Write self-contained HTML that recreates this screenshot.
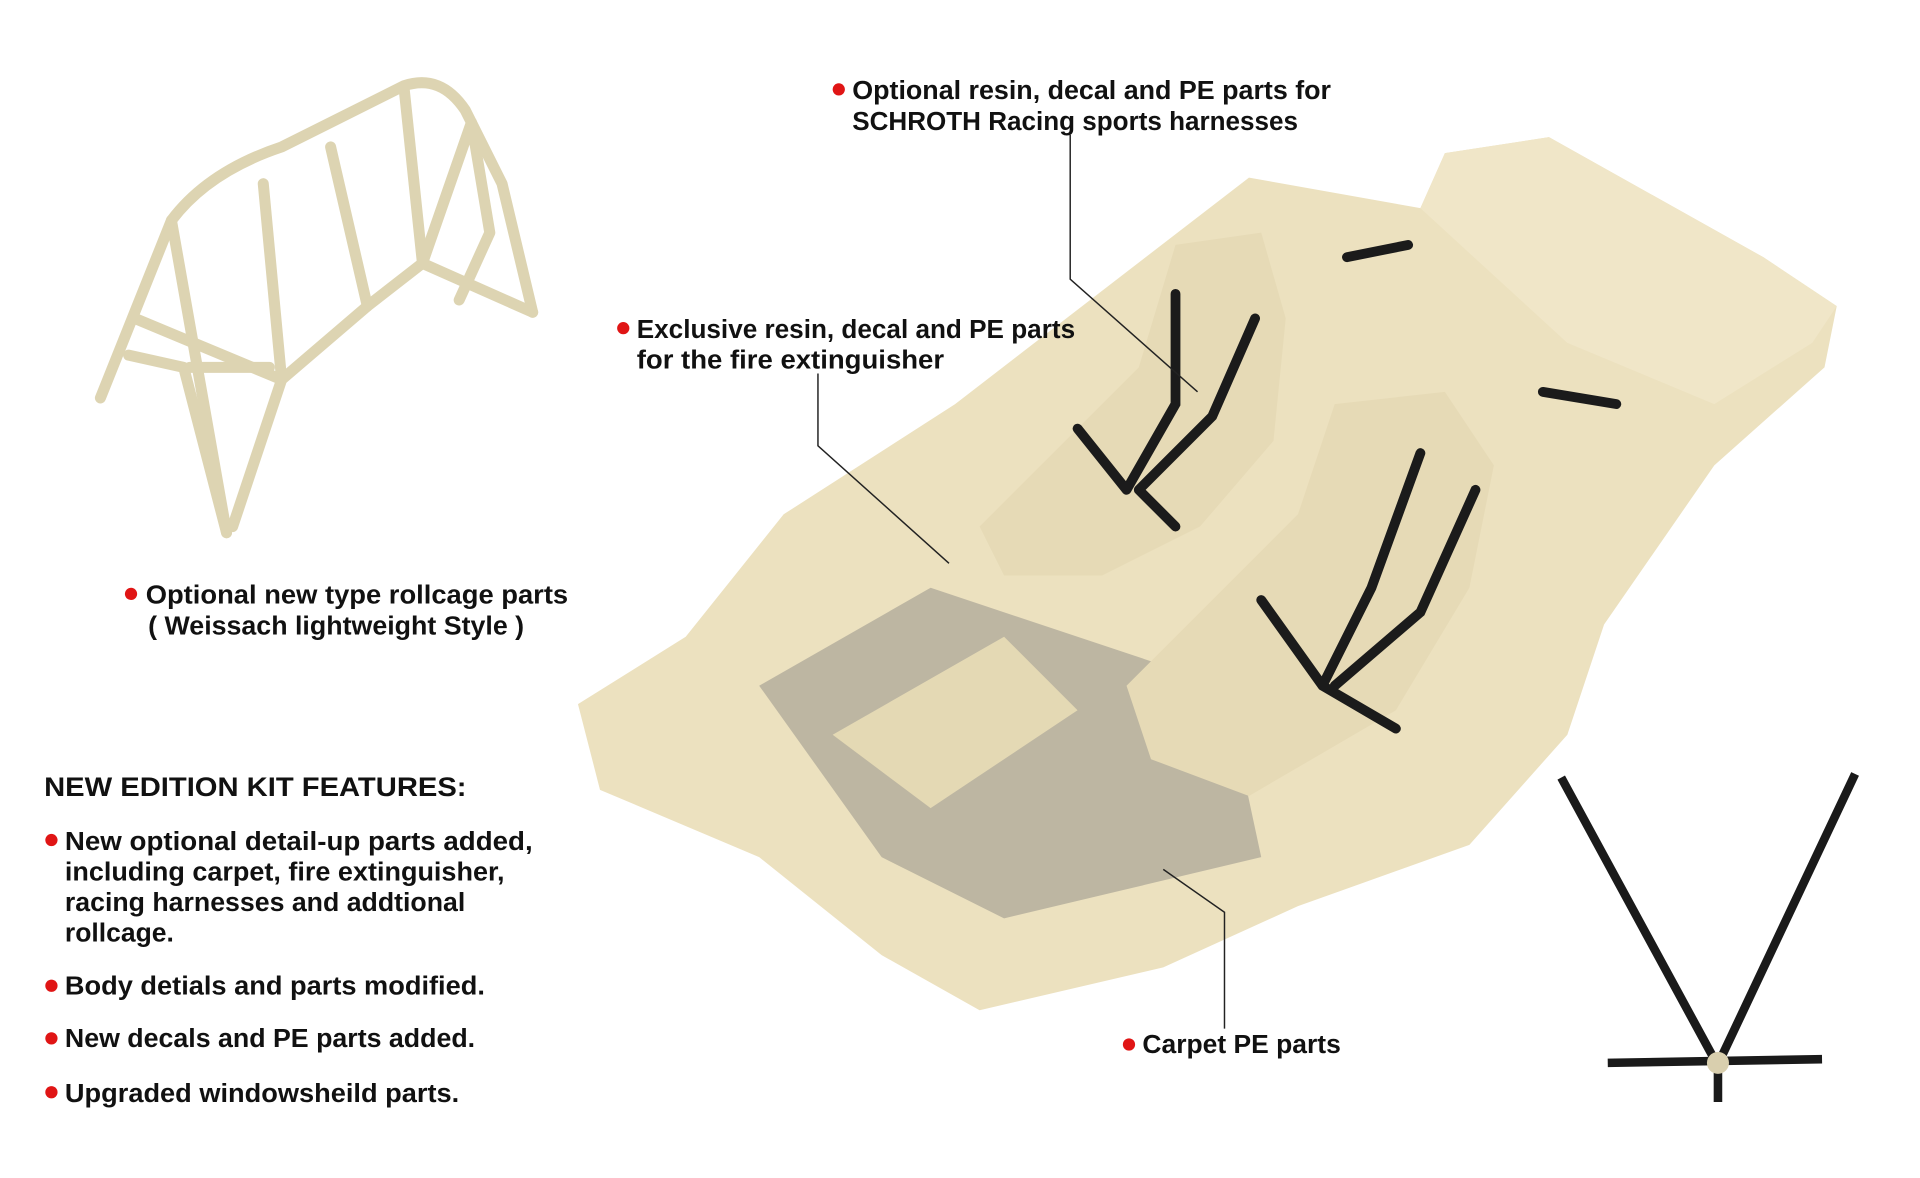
<!DOCTYPE html>
<html><head><meta charset="utf-8"><style>
html,body{margin:0;padding:0;background:#fff;}
svg{display:block}
text{font-family:"Liberation Sans",sans-serif;font-weight:bold;fill:#111;}
</style></head><body>
<svg width="1920" height="1178" viewBox="0 0 1568 962" xmlns="http://www.w3.org/2000/svg">
<rect width="1568" height="962" fill="#fff"/>
<g fill="none" stroke="#ddd4b2" stroke-width="9" stroke-linecap="round" stroke-linejoin="round">
<path d="M82,325 L140,180 Q170,140 230,120 L330,70 Q360,60 380,90 L410,150 L435,255"/>
<path d="M140,180 L185,435 M215,150 L230,310 M270,120 L300,250 M330,72 L345,215 M385,100 L400,190 L375,245"/>
<path d="M110,260 L230,310 L300,250 L345,215 L385,100"/>
<path d="M155,300 L220,300 M105,290 L150,300 M150,300 L185,435"/>
<path d="M230,310 L190,430 M345,215 L435,255"/>
</g>
<path d="M472,575 L560,520 L640,420 L780,330 L1020,145 L1160,170 L1180,125 L1265,112 L1440,210 L1500,250 L1490,300 L1400,380 L1310,510 L1280,600 L1200,690 L1060,740 L950,790 L800,825 L720,780 L620,700 L490,645 Z" fill="#ece1bf"/>
<path d="M1160,170 L1180,125 L1265,112 L1440,210 L1500,250 L1480,280 L1400,330 L1280,280 Z" fill="#f0e6c8"/>
<path d="M620,560 L760,480 L1000,560 L1030,700 L820,750 L720,700 Z" fill="#bdb6a2"/>
<path d="M680,600 L820,520 L880,580 L760,660 Z" fill="#e4d9b4"/>
<path d="M800,430 L930,300 L960,200 L1030,190 L1050,260 L1040,360 L980,430 L900,470 L820,470 Z" fill="#e6dab6"/>
<path d="M920,560 L1060,420 L1090,330 L1180,320 L1220,380 L1200,480 L1140,580 L1020,650 L940,620 Z" fill="#e6dab6"/>
<g fill="none" stroke="#1b1b1b" stroke-width="8" stroke-linecap="round">
<path d="M960,240 L960,330 L920,400 M1025,260 L990,340 L930,400 M880,350 L920,400 M930,400 L960,430"/>
<path d="M1160,370 L1120,480 L1080,560 M1205,400 L1160,500 L1090,560 M1030,490 L1080,560 L1140,595"/>
<path d="M1100,210 L1150,200 M1260,320 L1320,330"/>
</g>
<g fill="none" stroke="#1a1a1a" stroke-width="7">
<path d="M1275,635 L1400,865 M1515,632 L1405,865 M1313,868 L1488,865 M1403,868 L1403,900"/>
</g>
<circle cx="1403" cy="868" r="9" fill="#d9cfae"/>
<g stroke="#222" stroke-width="1.2" fill="none">
<path d="M874,110 L874,228 L978,320"/>
<path d="M668,305 L668,364 L775,460"/>
<path d="M1000,840 L1000,745 L950,710"/>
</g>
<g fill="#e01515">
<circle cx="685" cy="73" r="5"/><circle cx="509" cy="268" r="5"/><circle cx="107" cy="485" r="5"/>
<circle cx="922" cy="853" r="5"/><circle cx="42" cy="686" r="5"/><circle cx="42" cy="805" r="5"/>
<circle cx="42" cy="848" r="5"/><circle cx="42" cy="892" r="5"/>
</g>
<g font-size="21" lengthAdjust="spacingAndGlyphs">
<text x="696" y="81" textLength="391" lengthAdjust="spacingAndGlyphs">Optional resin, decal and PE parts for</text>
<text x="696" y="106" textLength="364" lengthAdjust="spacingAndGlyphs">SCHROTH Racing sports harnesses</text>
<text x="520" y="276" textLength="358" lengthAdjust="spacingAndGlyphs">Exclusive resin, decal and PE parts</text>
<text x="520" y="301" textLength="251" lengthAdjust="spacingAndGlyphs">for the fire extinguisher</text>
<text x="119" y="493" textLength="345" lengthAdjust="spacingAndGlyphs">Optional new type rollcage parts</text>
<text x="121" y="518" textLength="307" lengthAdjust="spacingAndGlyphs">( Weissach lightweight Style )</text>
<text x="933" y="860" textLength="162" lengthAdjust="spacingAndGlyphs">Carpet PE parts</text>
<text x="36" y="650" font-size="22" textLength="345" lengthAdjust="spacingAndGlyphs">NEW EDITION KIT FEATURES:</text>
<text x="53" y="694" textLength="382" lengthAdjust="spacingAndGlyphs">New optional detail-up parts added,</text>
<text x="53" y="719" textLength="359" lengthAdjust="spacingAndGlyphs">including carpet, fire extinguisher,</text>
<text x="53" y="744" textLength="327" lengthAdjust="spacingAndGlyphs">racing harnesses and addtional</text>
<text x="53" y="769" textLength="89" lengthAdjust="spacingAndGlyphs">rollcage.</text>
<text x="53" y="812" textLength="343" lengthAdjust="spacingAndGlyphs">Body detials and parts modified.</text>
<text x="53" y="855" textLength="335" lengthAdjust="spacingAndGlyphs">New decals and PE parts added.</text>
<text x="53" y="900" textLength="322" lengthAdjust="spacingAndGlyphs">Upgraded windowsheild parts.</text>
</g>
</svg>
</body></html>
